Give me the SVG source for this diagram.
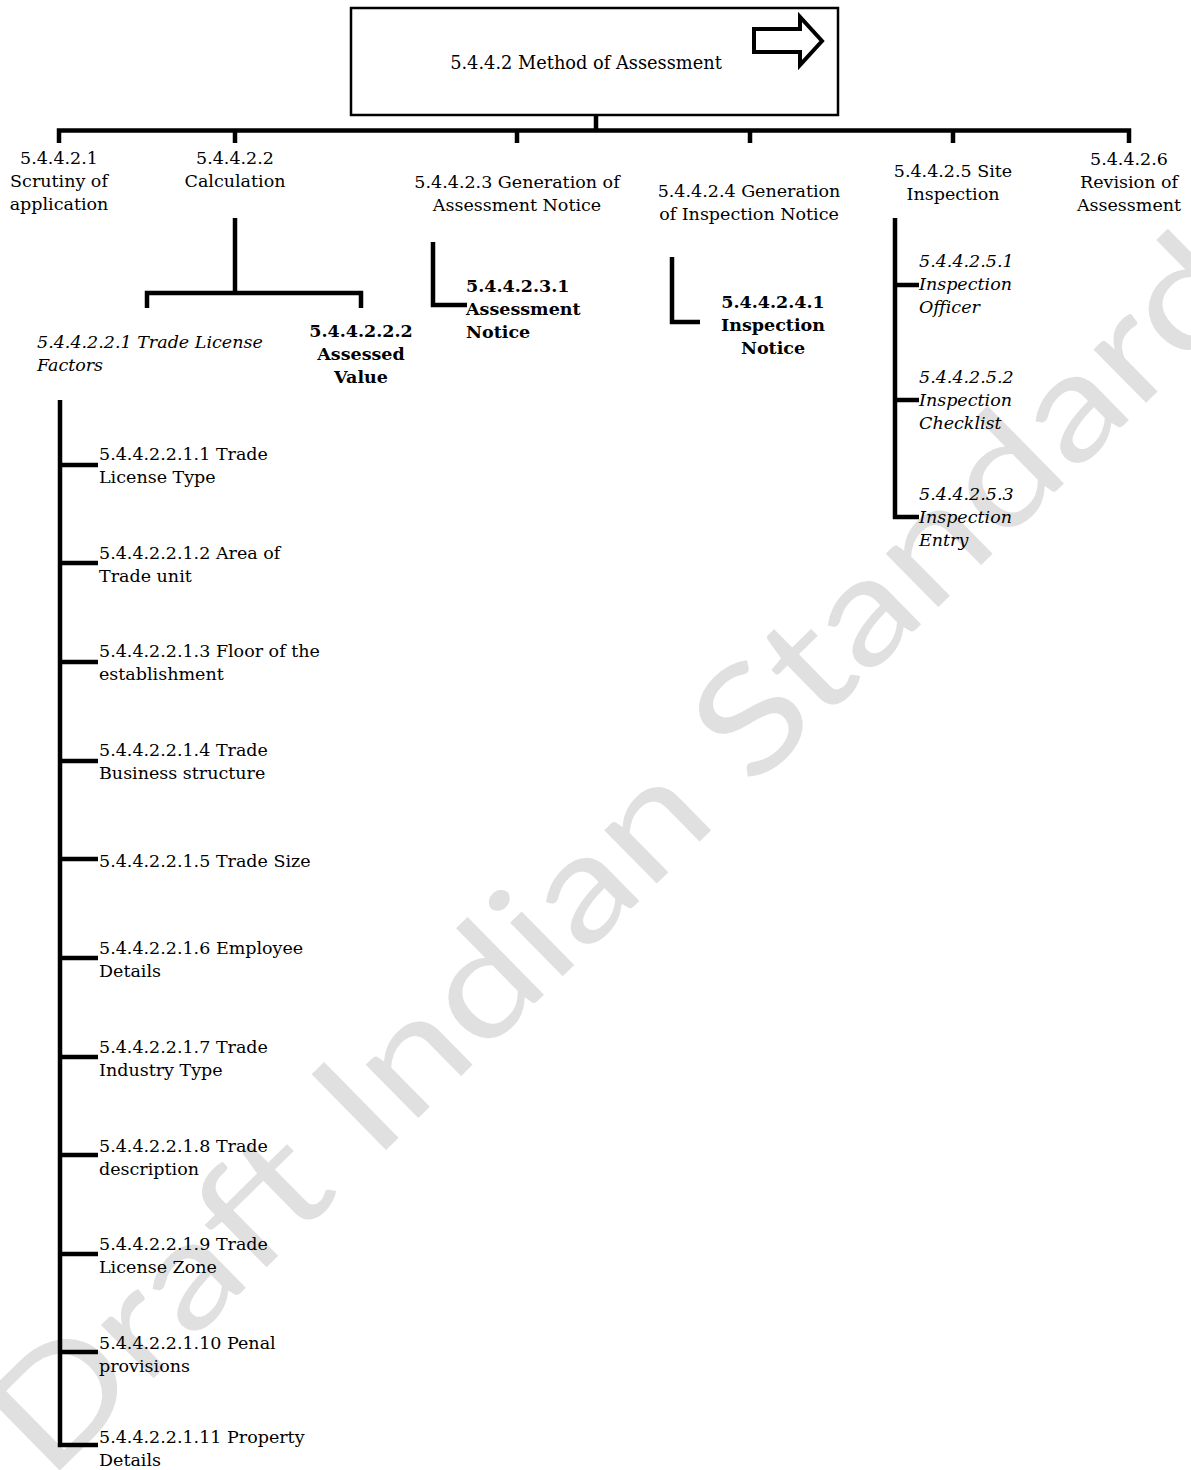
<svg xmlns="http://www.w3.org/2000/svg" width="1191" height="1470" viewBox="0 0 1191 1470">
<style>
.t{font-family:"DejaVu Serif","Liberation Serif",serif;font-size:17.5px;fill:#000}
.c{text-anchor:middle}
.i{font-style:italic}
.b{font-weight:bold}
.ln{fill:none;stroke:#000;stroke-width:4.5;stroke-linejoin:miter;stroke-linecap:butt}
.wm{font-family:Lato,"Liberation Sans",sans-serif;font-size:148px;fill:#e0e0e0}
</style>
<rect width="1191" height="1470" fill="#fff"/>
<text class="wm" x="0" y="0" transform="translate(48,1482) rotate(-44.5)" textLength="1690" lengthAdjust="spacingAndGlyphs">Draft Indian Standard</text>

<g id="connectors">
<path class="ln" d="M596,115 V131"/>
<path class="ln" d="M59,143 V130.5 H1129 V143"/>
<path class="ln" d="M235,130 V143 M517,130 V143 M750,130 V143 M953,130 V143"/>
<path class="ln" d="M235,218 V293"/>
<path class="ln" d="M147,308 V293 H361 V308"/>
<path class="ln" d="M433,242 V305 H467"/>
<path class="ln" d="M672,257 V322 H700"/>
<path class="ln" d="M895,218 V517 H919 M895,285 H919 M895,400 H919"/>
<path class="ln" d="M60,400 V1445 H98 M60,465 H98 M60,563 H98 M60,662 H98 M60,761 H98 M60,859 H98 M60,958 H98 M60,1057 H98 M60,1155 H98 M60,1254 H98 M60,1352 H98"/>
</g>

<g id="n-root">
<rect x="351" y="8" width="487" height="107" fill="#fff" stroke="#000" stroke-width="2.5"/>
<text class="t c" x="586" y="69" style="font-size:17.8px">5.4.4.2 Method of Assessment</text>
<path d="M754,29 H800 V17 L822,41 L800,65 V52 H754 Z" fill="#fff" stroke="#000" stroke-width="4" stroke-linejoin="miter"/>
</g>

<g id="n-5.4.4.2.1"><text class="t c" x="59" y="164">5.4.4.2.1</text><text class="t c" x="59" y="187">Scrutiny of</text><text class="t c" x="59" y="210">application</text></g>
<g id="n-5.4.4.2.2"><text class="t c" x="235" y="164">5.4.4.2.2</text><text class="t c" x="235" y="187">Calculation</text></g>
<g id="n-5.4.4.2.3"><text class="t c" x="517" y="188">5.4.4.2.3 Generation of</text><text class="t c" x="517" y="211">Assessment Notice</text></g>
<g id="n-5.4.4.2.4"><text class="t c" x="749" y="197">5.4.4.2.4 Generation</text><text class="t c" x="749" y="220">of Inspection Notice</text></g>
<g id="n-5.4.4.2.5"><text class="t c" x="953" y="177">5.4.4.2.5 Site</text><text class="t c" x="953" y="200">Inspection</text></g>
<g id="n-5.4.4.2.6"><text class="t c" x="1129" y="165">5.4.4.2.6</text><text class="t c" x="1129" y="188">Revision of</text><text class="t c" x="1129" y="211">Assessment</text></g>

<g id="n-5.4.4.2.2.1"><text class="t i" x="37" y="348">5.4.4.2.2.1 Trade License</text><text class="t i" x="37" y="371">Factors</text></g>
<g id="n-5.4.4.2.2.2"><text class="t b c" x="361" y="337">5.4.4.2.2.2</text><text class="t b c" x="361" y="360">Assessed</text><text class="t b c" x="361" y="383">Value</text></g>
<g id="n-5.4.4.2.3.1"><text class="t b" x="466" y="292">5.4.4.2.3.1</text><text class="t b" x="466" y="315">Assessment</text><text class="t b" x="466" y="338">Notice</text></g>
<g id="n-5.4.4.2.4.1"><text class="t b c" x="773" y="308">5.4.4.2.4.1</text><text class="t b c" x="773" y="331">Inspection</text><text class="t b c" x="773" y="354">Notice</text></g>

<g id="n-5.4.4.2.5.1"><text class="t i" x="919" y="267">5.4.4.2.5.1</text><text class="t i" x="919" y="290">Inspection</text><text class="t i" x="919" y="313">Officer</text></g>
<g id="n-5.4.4.2.5.2"><text class="t i" x="919" y="383">5.4.4.2.5.2</text><text class="t i" x="919" y="406">Inspection</text><text class="t i" x="919" y="429">Checklist</text></g>
<g id="n-5.4.4.2.5.3"><text class="t i" x="919" y="500">5.4.4.2.5.3</text><text class="t i" x="919" y="523">Inspection</text><text class="t i" x="919" y="546">Entry</text></g>

<g id="n-5.4.4.2.2.1.1"><text class="t" x="99" y="460">5.4.4.2.2.1.1 Trade</text><text class="t" x="99" y="483">License Type</text></g>
<g id="n-5.4.4.2.2.1.2"><text class="t" x="99" y="559">5.4.4.2.2.1.2 Area of</text><text class="t" x="99" y="582">Trade unit</text></g>
<g id="n-5.4.4.2.2.1.3"><text class="t" x="99" y="657">5.4.4.2.2.1.3 Floor of the</text><text class="t" x="99" y="680">establishment</text></g>
<g id="n-5.4.4.2.2.1.4"><text class="t" x="99" y="756">5.4.4.2.2.1.4 Trade</text><text class="t" x="99" y="779">Business structure</text></g>
<g id="n-5.4.4.2.2.1.5"><text class="t" x="99" y="867">5.4.4.2.2.1.5 Trade Size</text></g>
<g id="n-5.4.4.2.2.1.6"><text class="t" x="99" y="954">5.4.4.2.2.1.6 Employee</text><text class="t" x="99" y="977">Details</text></g>
<g id="n-5.4.4.2.2.1.7"><text class="t" x="99" y="1053">5.4.4.2.2.1.7 Trade</text><text class="t" x="99" y="1076">Industry Type</text></g>
<g id="n-5.4.4.2.2.1.8"><text class="t" x="99" y="1152">5.4.4.2.2.1.8 Trade</text><text class="t" x="99" y="1175">description</text></g>
<g id="n-5.4.4.2.2.1.9"><text class="t" x="99" y="1250">5.4.4.2.2.1.9 Trade</text><text class="t" x="99" y="1273">License Zone</text></g>
<g id="n-5.4.4.2.2.1.10"><text class="t" x="99" y="1349">5.4.4.2.2.1.10 Penal</text><text class="t" x="99" y="1372">provisions</text></g>
<g id="n-5.4.4.2.2.1.11"><text class="t" x="99" y="1443">5.4.4.2.2.1.11 Property</text><text class="t" x="99" y="1466">Details</text></g>
</svg>
